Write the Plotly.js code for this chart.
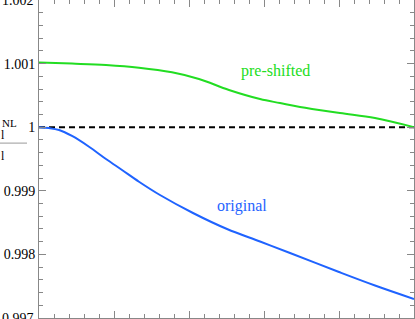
<!DOCTYPE html>
<html><head><meta charset="utf-8">
<script src="https://cdn.plot.ly/plotly-3.0.1.min.js"></script>
<style>html,body{margin:0;padding:0;background:#fff;}#chart{width:415px;height:319px;}</style>
</head><body><div id="chart"></div>
<script>
// x in units of major tick spacing
const xPre = [0, 0.44, 0.893, 1.333, 1.773, 2.133, 2.533, 2.947, 3.213, 3.48, 4.013, 4.48, 5.0];
const yPre = [1.001017, 1.001, 1.000978, 1.000936, 1.000863, 1.000758, 1.000585, 1.000443, 1.00038, 1.000318, 1.000223, 1.000145, 1.0];
const xOrig = [0, 0.133, 0.267, 0.44, 0.667, 0.893, 1.107, 1.333, 1.613, 2.053, 2.507, 2.947, 3.347, 4.0, 4.48, 5.0];
const yOrig = [1.0, 0.999987, 0.999956, 0.999862, 0.999693, 0.9995, 0.999327, 0.999143, 0.998934, 0.998651, 0.998399, 0.998203, 0.998022, 0.997723, 0.997511, 0.997299];
const refY = 1.0;
const yTicks = [0.997, 0.998, 0.999, 1, 1.001, 1.002];
const yTickText = ['0.997', '0.998', '0.999', '1', '1.001', '1.002'];

const green = '#22dd22', blue = '#1f63ff';
const traces = [
  {x:[0,5], y:[refY,refY], mode:'lines', line:{color:'#000', width:2, dash:'6px,4px'}, hoverinfo:'skip'},
  {x:xPre, y:yPre, mode:'lines', line:{color:green, width:2, shape:'spline', smoothing:1}},
  {x:xOrig, y:yOrig, mode:'lines', line:{color:blue, width:2, shape:'spline', smoothing:1}}
];
const axisCommon = {showline:true, linecolor:'#888', linewidth:1, mirror:'ticks', ticks:'inside',
  tickcolor:'#888', showgrid:false, zeroline:false};
const tickFont = {family:'Liberation Serif', size:14, color:'#000'};
// end labels drawn as annotations so they show half-clipped like the reference
const endLabels = [0, yTicks.length - 1].map(i => ({xref:'paper', yref:'y', x:0, y:yTicks[i], xanchor:'right', yanchor:'middle',
  xshift:-3, text:yTickText[i], showarrow:false, font:tickFont}));
const layout = {
  width:415, height:319, margin:{l:39, r:1, t:0, b:1}, showlegend:false,
  paper_bgcolor:'#fff', plot_bgcolor:'#fff',
  xaxis:Object.assign({}, axisCommon, {range:[0,5], tickvals:[0,1,2,3,4,5], ticklen:7, showticklabels:false,
    minor:{dtick:0.2, ticks:'inside', ticklen:4, tickcolor:'#888'}}),
  yaxis:Object.assign({}, axisCommon, {range:[0.997,1.002], tickvals:yTicks, ticktext:yTickText, ticklen:7,
    tickfont:tickFont, minor:{dtick:0.0002, ticks:'inside', ticklen:4, tickcolor:'#888'}}),
  annotations:endLabels.concat([
    {xref:'x', yref:'y', x:3.147, y:1.000884, text:'pre-shifted', showarrow:false, font:{family:'Liberation Serif', size:16, color:green}},
    {xref:'x', yref:'y', x:2.7, y:0.998761, text:'original', showarrow:false, font:{family:'Liberation Serif', size:16, color:blue}},
    {xref:'paper', yref:'paper', x:-0.08, y:0.613, xanchor:'center', yanchor:'middle', text:'NL', showarrow:false, font:{family:'Liberation Serif', size:11, color:'#000'}},
    {xref:'paper', yref:'paper', x:-0.096, y:0.575, xanchor:'center', yanchor:'middle', text:'l', showarrow:false, font:{family:'Liberation Serif', size:12, color:'#000'}},
    {xref:'paper', yref:'paper', x:-0.096, y:0.51, xanchor:'center', yanchor:'middle', text:'l', showarrow:false, font:{family:'Liberation Serif', size:12, color:'#000'}}
  ]),
  shapes:[
    {type:'line', xref:'paper', yref:'paper', x0:-0.104, x1:-0.032, y0:0.55, y1:0.55, line:{color:'#999', width:1}}
  ]
};
Plotly.newPlot('chart', traces, layout, {staticPlot:true, displayModeBar:false});
</script></body></html>
